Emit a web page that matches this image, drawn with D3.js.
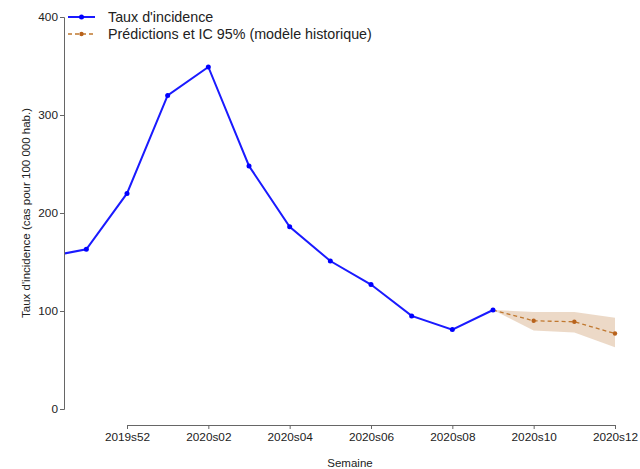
<!DOCTYPE html>
<html><head><meta charset="utf-8">
<script src="https://cdn.jsdelivr.net/npm/d3@7"></script>
<style>
body{margin:0;background:#fff;}
text{font-family:"Liberation Sans",Arial,sans-serif;}
</style></head>
<body><svg id="c" width="640" height="469"></svg>
<script>
const weeks = ["2019s50","2019s51","2019s52","2020s01","2020s02","2020s03","2020s04","2020s05","2020s06","2020s07","2020s08","2020s09","2020s10","2020s11","2020s12"];
const obsWeeks = ["2019s50","2019s51","2019s52","2020s01","2020s02","2020s03","2020s04","2020s05","2020s06","2020s07","2020s08","2020s09"];
const obsValues = [155,163,220,320,349,248,186,151,127,95,81,101];
const predWeeks = ["2020s09","2020s10","2020s11","2020s12"];
const predValues = [101,90,89,77];
const predLower = [101,80,78,63];
const predUpper = [101,99,99,93];
const xTickLabels = ["2019s52","2020s02","2020s04","2020s06","2020s08","2020s10","2020s12"];
const yTicks = [0,100,200,300,400];

const svg = d3.select("#c");
const idx = w => weeks.indexOf(w);
const x = d3.scaleLinear().domain([idx("2019s52"), idx("2020s12")]).range([127,615]);
const y = d3.scaleLinear().domain([0,400]).range([409,17]);

svg.append("defs").append("clipPath").attr("id","clip")
  .append("rect").attr("x",65).attr("y",0).attr("width",575).attr("height",469);

const g = svg.append("g").attr("clip-path","url(#clip)");

const obs = obsWeeks.map((w,i)=>({x:idx(w),v:obsValues[i]}));
const pred = predWeeks.map((w,i)=>({x:idx(w),v:predValues[i],lo:predLower[i],hi:predUpper[i]}));

g.append("path").datum(pred)
  .attr("d", d3.area().x(d=>x(d.x)).y0(d=>y(d.lo)).y1(d=>y(d.hi)))
  .attr("fill","#d9b48f").attr("fill-opacity",0.5).attr("stroke","none");

g.append("path").datum(pred)
  .attr("d", d3.line().x(d=>x(d.x)).y(d=>y(d.v)))
  .attr("fill","none").attr("stroke","#c0782f").attr("stroke-width",1.3).attr("stroke-dasharray","4,3");
g.selectAll("circle.p").data(pred.slice(1)).join("circle").attr("class","p")
  .attr("cx",d=>x(d.x)).attr("cy",d=>y(d.v)).attr("r",2.2).attr("fill","#b8621b");

g.append("path").datum(obs)
  .attr("d", d3.line().x(d=>x(d.x)).y(d=>y(d.v)))
  .attr("fill","none").attr("stroke","#1a1aff").attr("stroke-width",2);
g.selectAll("circle.o").data(obs).join("circle").attr("class","o")
  .attr("cx",d=>x(d.x)).attr("cy",d=>y(d.v)).attr("r",2.5).attr("fill","#0000ff");

// axes
const xa = svg.append("g").attr("transform","translate(0,425)")
  .call(d3.axisBottom(x).tickValues(xTickLabels.map(idx)).tickFormat(i=>weeks[i]).tickSizeOuter(0).tickSize(4).tickPadding(4));
const ya = svg.append("g").attr("transform","translate(64,0)")
  .call(d3.axisLeft(y).tickValues(yTicks).tickSizeOuter(0).tickSize(4).tickPadding(2));
[xa,ya].forEach(a=>{
  a.selectAll("path,line").attr("stroke","#666").attr("stroke-width",1);
  a.selectAll("text").attr("fill","#222").style("font-size","11.8px").style("font-family","Liberation Sans, Arial, sans-serif");
});

svg.append("text").attr("x",350).attr("y",467).attr("text-anchor","middle")
  .attr("fill","#222").style("font-size","11.5px").text("Semaine");
svg.append("text").attr("transform","translate(30,213) rotate(-90)").attr("text-anchor","middle")
  .attr("fill","#222").style("font-size","11.5px").text("Taux d'incidence (cas pour 100 000 hab.)");

// legend
const leg = svg.append("g");
leg.append("line").attr("x1",68).attr("x2",95).attr("y1",17).attr("y2",17).attr("stroke","#1a1aff").attr("stroke-width",2);
leg.append("circle").attr("cx",81.5).attr("cy",17).attr("r",2.5).attr("fill","#0000ff");
leg.append("text").attr("x",108).attr("y",21.5).attr("fill","#222").style("font-size","14.3px").text("Taux d'incidence");
leg.append("line").attr("x1",68).attr("x2",95).attr("y1",34).attr("y2",34).attr("stroke","#c0782f").attr("stroke-width",1.3).attr("stroke-dasharray","4,3");
leg.append("circle").attr("cx",81.5).attr("cy",34).attr("r",2.2).attr("fill","#b8621b");
leg.append("text").attr("x",108).attr("y",39).attr("fill","#222").style("font-size","14.3px").text("Prédictions et IC 95% (modèle historique)");
</script></body></html>
